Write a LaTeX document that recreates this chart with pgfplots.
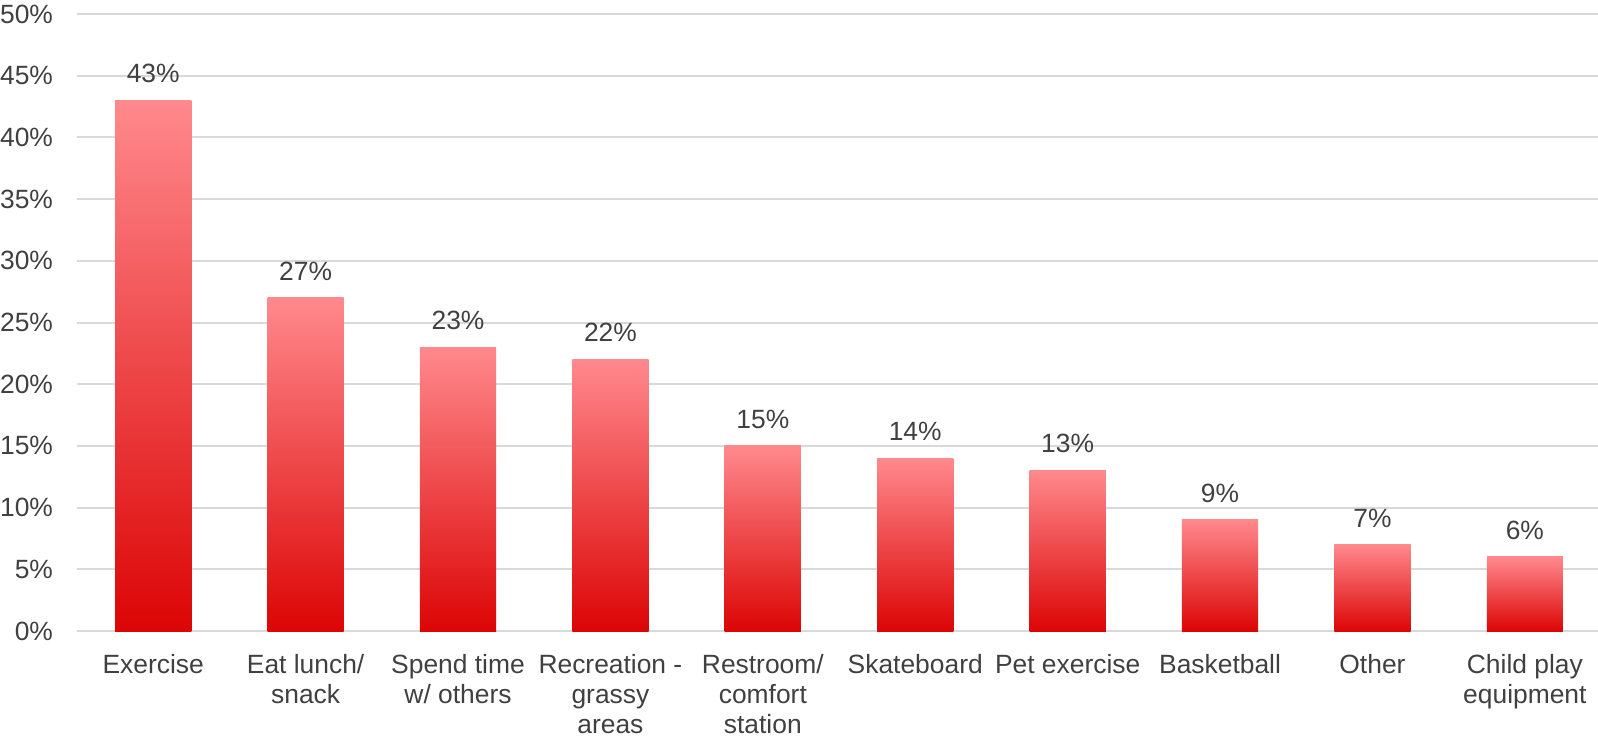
\documentclass[border=0pt]{standalone}
\usepackage{pgfplots}
\pgfplotsset{compat=1.18}
\usepackage{fontspec}
\setmainfont{Liberation Sans}
\definecolor{txt}{HTML}{404040}
\definecolor{gridc}{HTML}{D9D9D9}
\definecolor{barTop}{HTML}{FF898D}
\definecolor{barBot}{HTML}{DC0505}
\begin{document}
\begin{tikzpicture}
\begin{axis}[
  at={(0,0)}, anchor=south west,
  scale only axis,
  width=760.5pt, height=308.5pt,
  xmin=-0.5, xmax=9.48,
  ymin=0, ymax=50,
  ytick={0,5,...,50},
  xtick={0,...,9},
  xticklabels={Exercise,{Eat lunch/\\snack},{Spend time\\w/ others},{Recreation -\\grassy\\areas},{Restroom/\\comfort\\station},Skateboard,Pet exercise,Basketball,Other,{Child play\\equipment}},
  xticklabel style={align=center, font=\fontsize{13.2}{15.1}\selectfont, text=txt, inner ysep=0pt, yshift=-7pt},
  yticklabel={\pgfmathprintnumber{\tick}\%},
  yticklabel style={font=\fontsize{13.2}{15.3}\selectfont, text=txt, xshift=-8.5pt},
  /pgf/number format/assume math mode=true,
  axis line style={draw=none},
  tick style={draw=none},
  ymajorgrids,
  grid style={gridc, line width=1pt},
  ybar, bar width=0.5, bar shift=0pt,
  nodes near coords={\pgfmathprintnumber{\pgfplotspointmeta}\%},
  nodes near coords style={font=\fontsize{13.2}{15.3}\selectfont, text=txt, anchor=south, inner sep=0pt, yshift=8.5pt},
  every axis plot/.append style={draw=none, top color=barTop, bottom color=barBot},
]
\addplot coordinates {(0,43)};
\addplot coordinates {(1,27)};
\addplot coordinates {(2,23)};
\addplot coordinates {(3,22)};
\addplot coordinates {(4,15)};
\addplot coordinates {(5,14)};
\addplot coordinates {(6,13)};
\addplot coordinates {(7,9)};
\addplot coordinates {(8,7)};
\addplot coordinates {(9,6)};
\end{axis}
\pgfresetboundingbox
\useasboundingbox (-38.5pt,-52pt) rectangle (760.5pt,315.5pt);
\end{tikzpicture}
\end{document}
